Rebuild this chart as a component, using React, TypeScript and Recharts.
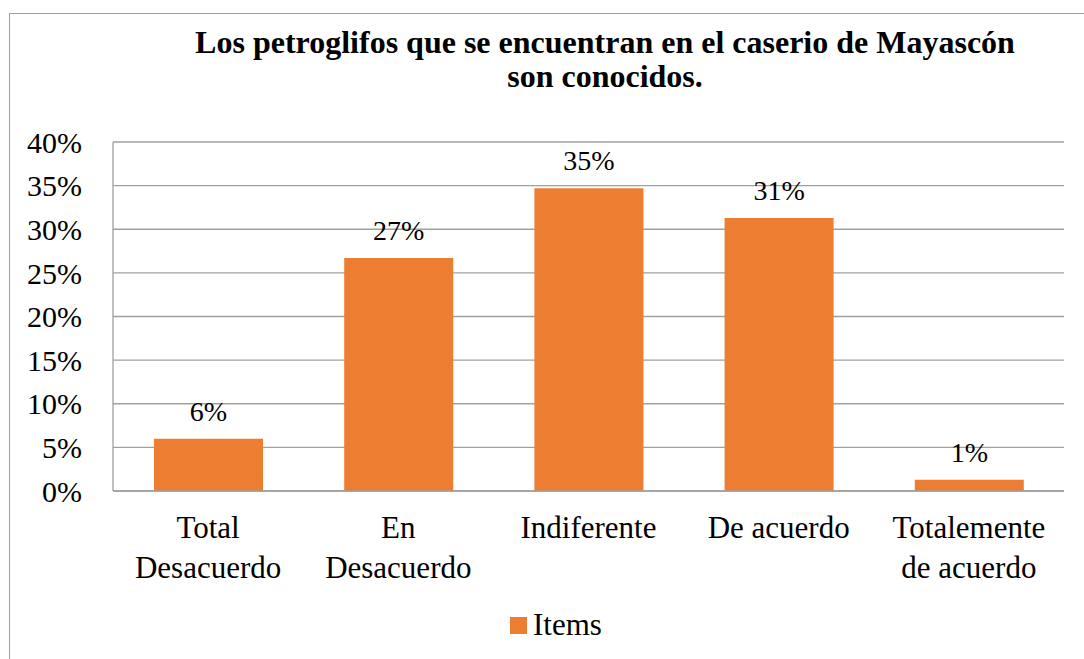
import { Bar, BarChart, CartesianGrid, LabelList, Legend, XAxis, YAxis } from "recharts";

const categories = [
  "Total\nDesacuerdo",
  "En\nDesacuerdo",
  "Indiferente",
  "De acuerdo",
  "Totalemente\nde acuerdo",
];
const items = [6.0, 26.7, 34.7, 31.3, 1.3];
const yTicks = [0, 5, 10, 15, 20, 25, 30, 35, 40];

const data = categories.map((c, i) => ({ name: c, items: items[i] }));

const FONT = "'Liberation Serif', 'Times New Roman', serif";
const ORANGE = "#ED7D31";
const GRID = "#a0a0a0";

function CategoryTick({ x, y, payload }: any) {
  const lines = String(payload.value).split("\n");
  return (
    <text x={x} y={y} textAnchor="middle" fontSize={31} fill="#000" style={{ fontFamily: FONT }}>
      {lines.map((l, i) => (
        <tspan key={i} x={x} dy={i === 0 ? 47 : 40}>
          {l}
        </tspan>
      ))}
    </text>
  );
}

function LegendBox({ payload }: any) {
  return (
    <div style={{ height: 40, display: "flex", alignItems: "center", paddingLeft: 510 }}>
      {(payload || []).map((p: any) => (
        <div key={p.value} style={{ display: "flex", alignItems: "center" }}>
          <span style={{ width: 17, height: 17, background: ORANGE, display: "inline-block", marginRight: 6 }} />
          <span style={{ fontSize: 31, fontFamily: FONT, color: "#000" }}>{p.value}</span>
        </div>
      ))}
    </div>
  );
}

export default function App() {
  return (
    <div
      style={{
        position: "absolute",
        left: 0,
        top: 0,
        width: 1084,
        height: 659,
        overflow: "hidden",
        background: "#fff",
        fontFamily: FONT,
      }}
    >
      <div
        style={{
          position: "absolute",
          left: 9,
          top: 13,
          width: 1200,
          height: 800,
          border: `1px solid ${GRID}`,
        }}
      />
      <div
        style={{
          position: "absolute",
          left: 305,
          width: 600,
          top: 25,
          textAlign: "center",
          whiteSpace: "nowrap",
          display: "flex",
          flexDirection: "column",
          alignItems: "center",
          fontWeight: "bold",
          fontSize: 32,
          lineHeight: "34px",
          color: "#000",
        }}
      >
        <div>Los petroglifos que se encuentran en el caserio de Mayascón</div>
        <div>son conocidos.</div>
      </div>
      <div style={{ position: "absolute", left: 0, top: 0 }}>
        <BarChart
          width={1084}
          height={659}
          data={data}
          margin={{ top: 142, right: 20, left: 0, bottom: 14 }}
        >
          <CartesianGrid vertical={false} stroke={GRID} strokeWidth={1.3} />
          <XAxis
            dataKey="name"
            height={114}
            tickLine={false}
            tickSize={0}
            tickMargin={0}
            axisLine={{ stroke: GRID, strokeWidth: 1.3 }}
            tick={<CategoryTick />}
            interval={0}
          />
          <YAxis
            width={113}
            domain={[0, 40]}
            ticks={yTicks}
            tickFormatter={(v) => `${v}%`}
            tickLine={false}
            tickSize={0}
            tickMargin={31}
            axisLine={{ stroke: GRID, strokeWidth: 1.3 }}
            tick={{ fontSize: 30, fill: "#000", style: { fontFamily: FONT } }}
            interval={0}
          />
          <Legend verticalAlign="bottom" height={40} content={<LegendBox />} wrapperStyle={{ left: 0, width: 1084 }} />
          <Bar dataKey="items" name="Items" fill={ORANGE} barSize={109} isAnimationActive={false}>
            <LabelList
              dataKey="items"
              position="top"
              offset={18}
              formatter={(v: any) => `${Math.round(Number(v))}%`}
              style={{ fontSize: 28, fontFamily: FONT, fill: "#000" }}
            />
          </Bar>
        </BarChart>
      </div>
    </div>
  );
}
